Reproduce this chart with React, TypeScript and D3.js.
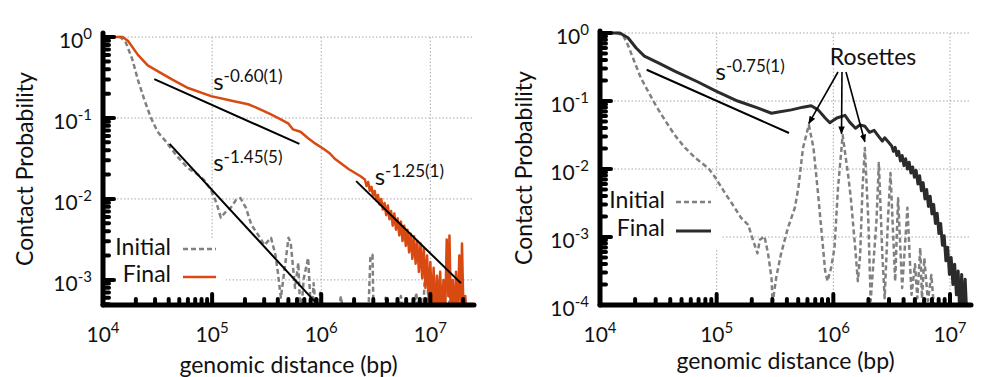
import React from 'react';
import * as d3 from 'd3';

type Pt = [number, number];

// all series: [log10 genomic distance (bp), log10 contact probability]
const leftInitial: Pt[] = [
  [4.0, 0.0], [4.16, 0.0], [4.21, -0.07], [4.27, -0.28], [4.32, -0.53], [4.38, -0.78], [4.44, -1.0],
  [4.5, -1.17], [4.57, -1.28], [4.62, -1.37], [4.69, -1.49], [4.78, -1.62], [4.87, -1.7], [4.93, -1.77],
  [4.99, -1.89], [5.04, -2.05], [5.08, -2.23], [5.13, -2.15], [5.17, -2.11], [5.22, -2.01], [5.26, -1.99],
  [5.31, -2.11], [5.36, -2.32], [5.42, -2.44], [5.48, -2.57], [5.54, -2.48], [5.58, -2.69], [5.6, -2.88],
  [5.63, -3.22], [5.66, -2.91], [5.7, -2.48], [5.72, -2.54], [5.76, -3.1], [5.79, -2.79], [5.81, -3.5],
  [5.84, -2.98], [5.88, -2.73], [5.91, -3.5], [5.93, -3.04], [5.96, -3.5], [5.99, -3.16], [6.02, -3.5],
  [6.15, -3.5], [6.18, -3.2], [6.21, -3.5], [6.43, -3.5], [6.45, -2.73], [6.47, -2.69], [6.48, -3.5],
  [6.57, -3.5], [6.59, -3.22], [6.62, -3.5], [6.7, -3.5], [6.73, -3.2], [6.76, -3.5], [6.84, -3.5],
  [6.87, -3.16], [6.9, -3.5], [6.93, -3.5], [6.95, -2.94], [6.97, -2.91], [6.99, -3.5], [7.16, -3.5],
  [7.18, -3.16], [7.2, -3.5],
];

const leftFinal: Pt[] = [
  [4.0, 0.0], [4.18, 0.0], [4.23, -0.05], [4.32, -0.22], [4.41, -0.35], [4.5, -0.42], [4.64, -0.53],
  [4.78, -0.63], [4.99, -0.73], [5.19, -0.79], [5.33, -0.83], [5.42, -0.88], [5.53, -0.95], [5.62, -1.01],
  [5.7, -1.07], [5.74, -1.14], [5.81, -1.17], [5.88, -1.25], [5.95, -1.32], [6.02, -1.38], [6.08, -1.44],
  [6.13, -1.51], [6.18, -1.56], [6.25, -1.63], [6.31, -1.68], [6.36, -1.72],
  [6.4, -1.76], [6.415, -1.84], [6.43, -1.79], [6.445, -1.9], [6.46, -1.85], [6.475, -1.96], [6.49, -1.9],
  [6.505, -2.02], [6.52, -1.95], [6.535, -2.07], [6.55, -2.0], [6.565, -2.13], [6.58, -2.05], [6.595, -2.2],
  [6.61, -2.08], [6.625, -2.25], [6.64, -2.15], [6.655, -2.33], [6.67, -2.18], [6.685, -2.38], [6.7, -2.24],
  [6.715, -2.45], [6.73, -2.28], [6.745, -2.52], [6.76, -2.33], [6.775, -2.58], [6.79, -2.38], [6.805, -2.66],
  [6.82, -2.43], [6.835, -2.74], [6.85, -2.46], [6.865, -2.8], [6.88, -2.52], [6.895, -2.9], [6.91, -2.55],
  [6.925, -2.98], [6.94, -2.6], [6.955, -3.1], [6.97, -2.7], [6.985, -3.25], [7.0, -2.78], [7.015, -3.4],
  [7.03, -2.85], [7.045, -3.5], [7.06, -2.95], [7.075, -3.3], [7.09, -2.9], [7.105, -3.5], [7.12, -3.0],
  [7.135, -3.5], [7.15, -2.5], [7.165, -3.2], [7.175, -2.45], [7.19, -3.5], [7.205, -3.0], [7.22, -3.5],
  [7.235, -2.9], [7.25, -3.5], [7.265, -2.7], [7.28, -3.3], [7.29, -2.55], [7.305, -3.5], [7.32, -3.2],
  [7.335, -3.5],
];

const rightInitial: Pt[] = [
  [4.0, 0.0], [4.15, 0.0], [4.2, -0.04], [4.24, -0.18], [4.29, -0.4], [4.35, -0.66], [4.41, -0.85],
  [4.48, -1.07], [4.56, -1.29], [4.64, -1.5], [4.73, -1.69], [4.82, -1.84], [4.93, -1.99], [4.99, -2.13],
  [5.07, -2.35], [5.14, -2.53], [5.21, -2.72], [5.27, -2.82], [5.31, -3.04], [5.35, -3.24], [5.37, -3.04],
  [5.41, -2.99], [5.44, -3.24], [5.47, -3.6], [5.48, -3.97], [5.51, -3.6], [5.55, -3.26], [5.61, -2.87],
  [5.67, -2.57], [5.7, -2.28], [5.74, -1.69], [5.79, -1.35], [5.83, -1.69], [5.87, -2.38], [5.93, -3.5],
  [5.95, -3.65], [5.98, -3.46], [6.01, -3.16], [6.04, -2.28], [6.08, -1.5], [6.13, -2.13], [6.15, -2.43],
  [6.19, -3.21], [6.21, -3.65], [6.23, -3.26], [6.25, -2.28], [6.27, -1.69], [6.3, -2.76], [6.32, -3.94],
  [6.37, -2.76], [6.39, -1.91], [6.42, -3.26], [6.44, -3.9], [6.47, -2.68], [6.49, -2.06], [6.53, -3.65],
  [6.555, -2.43], [6.59, -3.75], [6.635, -2.57], [6.67, -3.85], [6.7, -3.4], [6.72, -3.9], [6.745, -3.16],
  [6.76, -3.9], [6.78, -3.31], [6.81, -3.94], [6.84, -3.56], [6.87, -4.2], [7.15, -4.2],
];

const rightFinal: Pt[] = [
  [4.0, 0.0], [4.17, 0.0], [4.24, -0.07], [4.31, -0.22], [4.38, -0.34], [4.5, -0.44], [4.64, -0.56],
  [4.84, -0.72], [4.99, -0.85], [5.18, -1.0], [5.35, -1.1], [5.47, -1.18], [5.53, -1.16], [5.64, -1.13],
  [5.74, -1.09], [5.81, -1.07], [5.87, -1.13], [5.93, -1.25], [5.97, -1.32], [6.03, -1.25], [6.1, -1.21],
  [6.14, -1.31], [6.19, -1.4], [6.23, -1.35], [6.27, -1.37], [6.31, -1.46], [6.35, -1.43], [6.38, -1.5],
  [6.42, -1.59], [6.44, -1.54], [6.47, -1.6],
  [6.5, -1.66], [6.515, -1.74], [6.53, -1.68], [6.545, -1.8], [6.56, -1.74], [6.575, -1.88], [6.59, -1.8],
  [6.605, -1.95], [6.62, -1.85], [6.635, -2.0], [6.65, -1.9], [6.665, -2.06], [6.68, -1.97], [6.695, -2.12],
  [6.71, -2.02], [6.725, -2.22], [6.74, -2.1], [6.755, -2.32], [6.77, -2.2], [6.785, -2.44], [6.8, -2.3],
  [6.815, -2.55], [6.83, -2.4], [6.845, -2.66], [6.86, -2.52], [6.875, -2.8], [6.89, -2.65], [6.905, -2.95],
  [6.92, -2.8], [6.935, -3.12], [6.95, -2.98], [6.965, -3.35], [6.98, -3.15], [6.995, -3.55], [7.01, -3.3],
  [7.025, -3.7], [7.04, -3.4], [7.055, -3.85], [7.07, -3.5], [7.085, -4.2], [7.1, -3.55], [7.115, -4.2],
  [7.13, -3.62], [7.145, -4.2], [7.16, -4.2],
];

// power-law fits, endpoints and label anchor in the same log10 units
const leftFits = [
  { from: [4.47, -0.52], to: [5.8, -1.32], exp: '-0.60(1)', at: [5.01, -0.65] },
  { from: [4.61, -1.32], to: [5.95, -3.28], exp: '-1.45(5)', at: [5.01, -1.65] },
  { from: [6.32, -1.78], to: [7.28, -3.04], exp: '-1.25(1)', at: [6.49, -1.83] },
];
const rightFits = [
  { from: [4.4, -0.54], to: [5.62, -1.47], exp: '-0.75(1)', at: [4.99, -0.69] },
];

const rosettePeaks: Pt[] = [[5.79, -1.33], [6.07, -1.48], [6.27, -1.6]];
const rosetteLabel: Pt = [6.34, -0.47];

const FONT = "Lato, 'Open Sans', sans-serif";
const ORANGE = '#d84a12';

const panels = [
  {
    id: 'l', x0: 95, x1: 466, yTop: 25, yBot: 297, xDom: [4, 7.4], yDom: [-3.31, 0.05],
    initial: leftInitial, final: leftFinal, finalColor: ORANGE, finalWidth: 2.5, fits: leftFits,
    legend: { box: [100, 230, 118, 67], textX: 163, rows: [247, 274], lineX: [175, 208] },
    titleX: 25, xTitleY: 365, rosettes: false,
  },
  {
    id: 'r', x0: 592, x1: 963, yTop: 23, yBot: 297, xDom: [4, 7.18], yDom: [-4, 0.03],
    initial: rightInitial, final: rightFinal, finalColor: '#2b2b2b', finalWidth: 3, fits: rightFits,
    legend: { box: [596, 183, 117, 57], textX: 657, rows: [200, 228], lineX: [668, 703] },
    titleX: 524, xTitleY: 361, rosettes: true,
  },
];

const isMajor = (v: number) => Math.abs(Math.log10(v) - Math.round(Math.log10(v))) < 1e-6;

function Panel({ p }: { p: typeof panels[number] }) {
  const xs = d3.scaleLog().domain([10 ** p.xDom[0], 10 ** p.xDom[1]]).range([p.x0, p.x1]);
  const ys = d3.scaleLog().domain([10 ** p.yDom[0], 10 ** p.yDom[1]]).range([p.yBot, p.yTop]);
  const line = d3.line<Pt>().x(d => xs(10 ** d[0])).y(d => ys(10 ** d[1]));
  const xTicks = xs.ticks();
  const yTicks = ys.ticks();
  const xMaj = xTicks.filter(isMajor);
  const yMaj = yTicks.filter(isMajor);
  const gridTop = ys(yMaj[yMaj.length - 1]);
  const lg = p.legend;
  const fx = (v: number) => xs(10 ** v);
  const fy = (v: number) => ys(10 ** v);

  return (
    <g fontFamily={FONT}>
      <defs>
        <clipPath id={`clip-${p.id}`}>
          <rect x={p.x0} y={p.yTop - 6} width={p.x1 - p.x0 + 4} height={p.yBot - p.yTop + 6} />
        </clipPath>
      </defs>
      {/* grid */}
      <g stroke="#a8a8a8" strokeWidth={1} strokeDasharray="1.5 2">
        {yMaj.filter(t => ys(t) < p.yBot - 2).map(t => (
          <line key={`gy${t}`} x1={p.x0} x2={p.x1} y1={ys(t)} y2={ys(t)} />
        ))}
        {xMaj.filter(t => xs(t) > p.x0 + 2).map(t => (
          <line key={`gx${t}`} x1={xs(t)} x2={xs(t)} y1={gridTop} y2={p.yBot} />
        ))}
      </g>
      <rect x={lg.box[0]} y={lg.box[1]} width={lg.box[2]} height={lg.box[3]} fill="#fff" />
      {/* data */}
      <g clipPath={`url(#clip-${p.id})`} fill="none" strokeLinejoin="round">
        <path d={line(p.initial) ?? ''} stroke="#808080" strokeWidth={2.5} strokeDasharray="5 3" />
        <path d={line(p.final) ?? ''} stroke={p.finalColor} strokeWidth={p.finalWidth} />
      </g>
      {/* fits */}
      {p.fits.map((f, i) => (
        <g key={i}>
          <line x1={fx(f.from[0])} y1={fy(f.from[1])} x2={fx(f.to[0])} y2={fy(f.to[1])} stroke="#000" strokeWidth={2} />
          <text x={fx(f.at[0])} y={fy(f.at[1])} fontSize={24} fill="#111">
            s<tspan dy={-8} fontSize={17}>{f.exp}</tspan>
          </text>
        </g>
      ))}
      {p.rosettes && (
        <g>
          <text x={fx(rosetteLabel[0])} y={fy(rosetteLabel[1])} fontSize={23} textAnchor="middle" fill="#111">Rosettes</text>
          {rosettePeaks.map((r, i) => (
            <line key={i} x1={fx(rosetteLabel[0]) - 35 + i * 4} y1={fy(rosetteLabel[1]) + 7}
              x2={fx(r[0])} y2={fy(r[1])} stroke="#000" strokeWidth={1.6} markerEnd="url(#arrow)" />
          ))}
        </g>
      )}
      {/* legend */}
      <g fontSize={23} fill="#111" textAnchor="end">
        <text x={lg.textX} y={lg.rows[0]}>Initial</text>
        <text x={lg.textX} y={lg.rows[1]}>Final</text>
      </g>
      <line x1={lg.lineX[0]} x2={lg.lineX[1]} y1={lg.rows[0] - 6} y2={lg.rows[0] - 6} stroke="#808080" strokeWidth={2.5} strokeDasharray="5 3" />
      <line x1={lg.lineX[0]} x2={lg.lineX[1]} y1={lg.rows[1] - 5} y2={lg.rows[1] - 5} stroke={p.finalColor} strokeWidth={p.finalWidth} />
      {/* axes */}
      <g stroke="#000" strokeLinecap="round">
        <line x1={p.x0} x2={p.x0} y1={p.yTop} y2={p.yBot} strokeWidth={5} />
        <line x1={p.x0} x2={p.x1} y1={p.yBot} y2={p.yBot} strokeWidth={5} />
        {yTicks.map(t => (
          <line key={`ty${t}`} x1={p.x0} x2={p.x0 + (isMajor(t) ? 11 : 6)} y1={ys(t)} y2={ys(t)} strokeWidth={4} />
        ))}
        {xTicks.map(t => (
          <line key={`tx${t}`} x1={xs(t)} x2={xs(t)} y1={p.yBot} y2={p.yBot - (isMajor(t) ? 11 : 6)} strokeWidth={4} />
        ))}
      </g>
      {/* tick labels */}
      <g fontSize={21} fill="#111">
        {yMaj.map(t => (
          <text key={`ly${t}`} x={p.x0 - 11} y={ys(t) + 11} textAnchor="end">
            10<tspan dy={-9} fontSize={15}>{Math.round(Math.log10(t))}</tspan>
          </text>
        ))}
        {xMaj.map(t => (
          <text key={`lx${t}`} x={xs(t)} y={334} textAnchor="middle">
            10<tspan dy={-9} fontSize={15}>{Math.round(Math.log10(t))}</tspan>
          </text>
        ))}
      </g>
      <text transform={`translate(${p.titleX},${(p.yTop + p.yBot) / 2}) rotate(-90)`} textAnchor="middle" fontSize={23} fill="#111">
        Contact Probability
      </text>
      <text x={(p.x0 + p.x1) / 2} y={p.xTitleY} textAnchor="middle" fontSize={23} fill="#111">
        genomic distance (bp)
      </text>
    </g>
  );
}

export default function App() {
  return (
    <svg width={1000} height={377} style={{ display: 'block', background: '#fff' }}>
      <defs>
        <marker id="arrow" viewBox="0 0 10 10" refX={9} refY={5} markerWidth={5} markerHeight={5} orient="auto">
          <path d="M0,1 L10,5 L0,9 z" fill="#000" />
        </marker>
      </defs>
      {panels.map(p => <Panel key={p.id} p={p} />)}
    </svg>
  );
}
